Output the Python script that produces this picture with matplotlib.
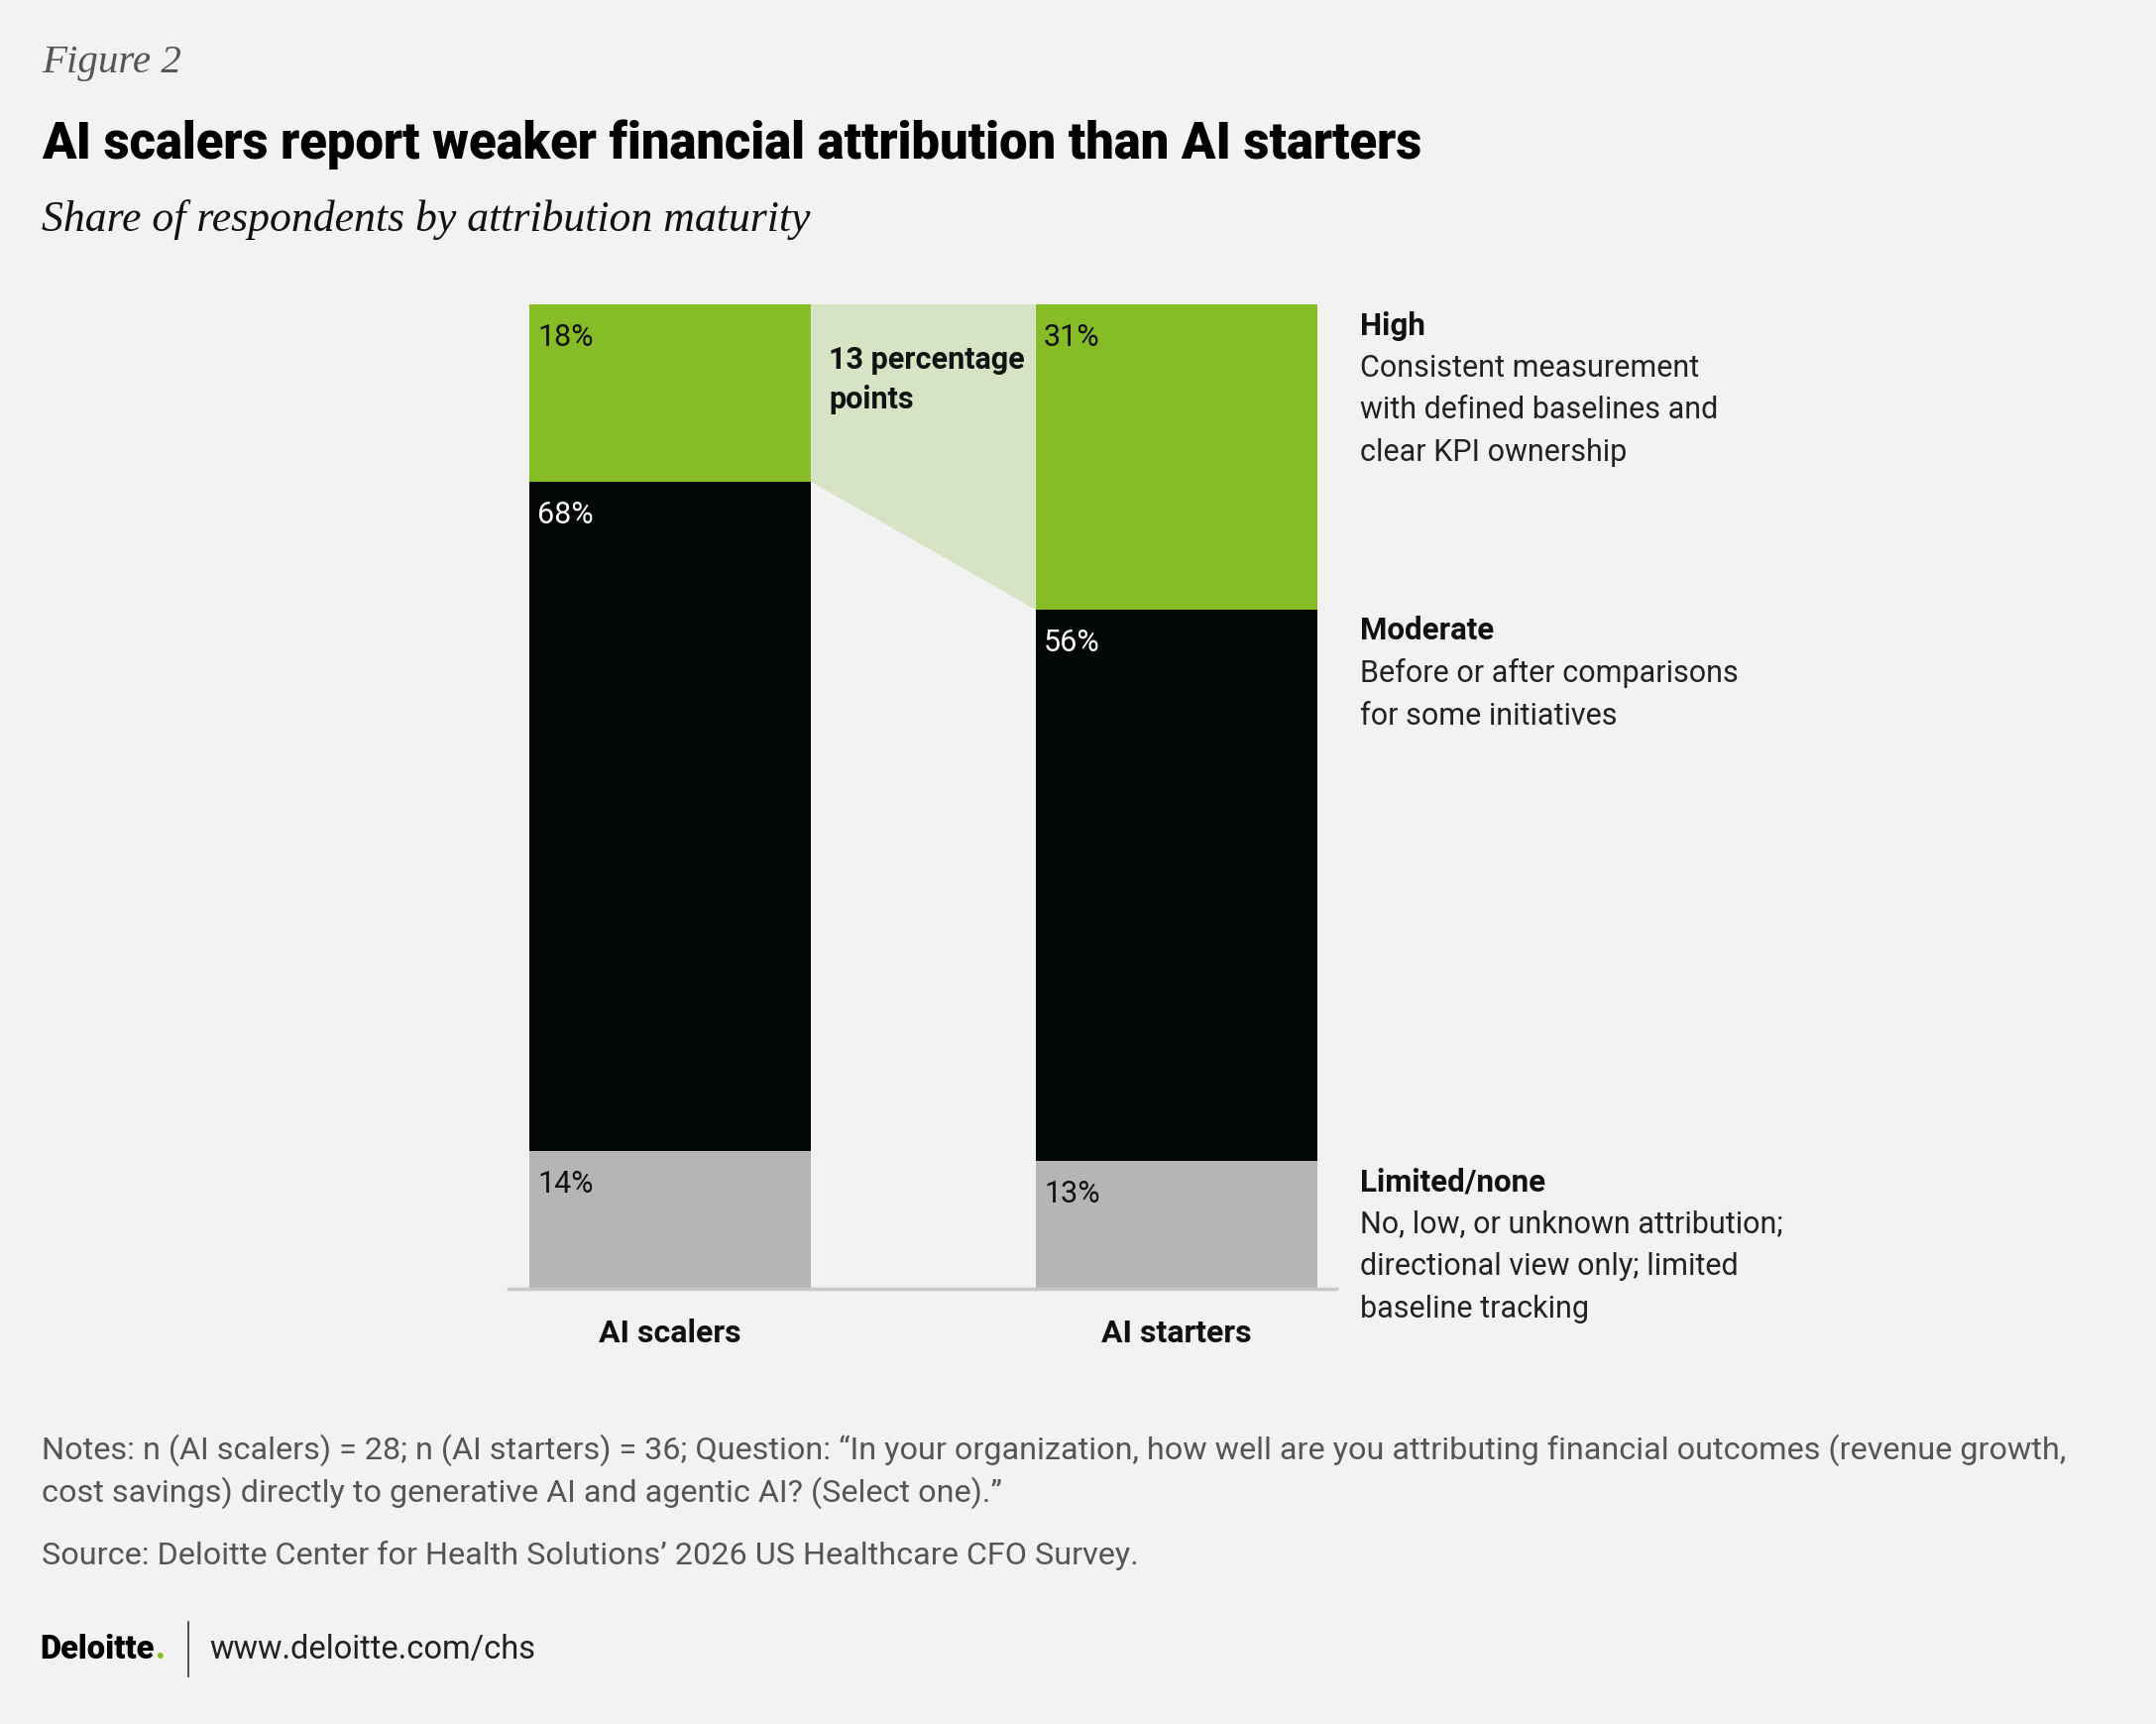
import matplotlib
matplotlib.use("Agg")
import matplotlib.pyplot as plt
from matplotlib import font_manager
from matplotlib.patches import Polygon

# data
groups = ["AI scalers", "AI starters"]
levels = ["High", "Moderate", "Limited/none"]
high = [18, 31]
moderate = [68, 56]
limited = [14, 13]
level_notes = [
    "Consistent measurement\nwith defined baselines and\nclear KPI ownership",
    "Before or after comparisons\nfor some initiatives",
    "No, low, or unknown attribution;\ndirectional view only; limited\nbaseline tracking",
]
gap_label = "13 percentage\npoints"

# colours
BG = "#f2f2f2"
GREEN = "#86bc25"
BLACK = "#040708"
GREY = "#b5b5b5"
WEDGE = "#d6e3c4"

available = {f.name for f in font_manager.fontManager.ttflist}
SANS = "Liberation Sans Narrow" if "Liberation Sans Narrow" in available else "Roboto"
SERIF = "Liberation Serif" if "Liberation Serif" in available else "DejaVu Serif"
plt.rcParams["font.family"] = [SANS, "DejaVu Sans"]

W, H = 2175, 1740
fig = plt.figure(figsize=(W / 100, H / 100), dpi=100, facecolor=BG)


def fx(x):
    return x / W


def fy(y):
    return 1 - y / H


# axes placed to match bar area
ax = fig.add_axes([fx(513), fy(1301), fx(1348) - fx(513), fy(308) - fy(1301)])
ax.set_facecolor(BG)

x = [0, 1]
w = 0.556
top_mod = [l + m for l, m in zip(limited, moderate)]

ax.bar(x, limited, width=w, color=GREY)
ax.bar(x, moderate, width=w, bottom=limited, color=BLACK)
ax.bar(x, high, width=w, bottom=top_mod, color=GREEN)

# wedge between the two green segments
wedge = Polygon([(x[0] + w / 2, 100), (x[0] + w / 2, top_mod[0]),
                 (x[1] - w / 2, top_mod[1]), (x[1] - w / 2, 100)],
                closed=True, facecolor=WEDGE, edgecolor="none")
ax.add_patch(wedge)
ax.annotate(gap_label, xy=(x[0] + w / 2, 100), xytext=(13, -29),
            textcoords="offset points", ha="left", va="top",
            fontsize=22, fontweight="bold", color="#111111", linespacing=1.4)

# value labels at top-left of each segment
for i in range(2):
    segs = [(100, high[i], "#111111"),
            (top_mod[i], moderate[i], "white"),
            (limited[i], limited[i], "#111111")]
    for top, val, col in segs:
        ax.annotate(f"{val}%", xy=(x[i] - w / 2, top), xytext=(6, -13),
                    textcoords="offset points", ha="left", va="top",
                    fontsize=22, color=col)

# level labels to the right of the starters bar
tops = [100, top_mod[1], limited[1]]
for lvl, note, top in zip(levels, level_notes, tops):
    ax.annotate(lvl, xy=(x[1] + w / 2, top), xytext=(31, -4),
                textcoords="offset points", ha="left", va="top",
                fontsize=22.5, fontweight="bold", color="#111111",
                annotation_clip=False)
    ax.annotate(note, xy=(x[1] + w / 2, top), xytext=(31, -35),
                textcoords="offset points", ha="left", va="top",
                fontsize=22, color="#222222", linespacing=1.6,
                annotation_clip=False)

ax.set_xlim(-0.319, 1.316)
ax.set_ylim(0, 100)
for s in ["top", "right", "left"]:
    ax.spines[s].set_visible(False)
ax.spines["bottom"].set_color("#c8c8c8")
ax.spines["bottom"].set_linewidth(2.5)
ax.set_yticks([])
ax.set_xticks(x)
ax.set_xticklabels(groups, fontsize=23, fontweight="bold", color="#111111")
ax.tick_params(axis="x", length=0, pad=21)

# header
fig.text(fx(42), fy(64), "Figure 2", family=SERIF, style="italic",
         fontsize=29.5, color="#555555", va="center")
fig.text(fx(42), fy(146), "AI scalers report weaker financial attribution than AI starters",
         fontsize=36.5, fontweight="black", color="#000000", va="center")
fig.text(fx(42), fy(222), "Share of respondents by attribution maturity", family=SERIF,
         style="italic", fontsize=31.5, color="#111111", va="center")

# notes and source
NOTE_FS = 23.3
fig.text(fx(42), fy(1463),
         "Notes: n (AI scalers) = 28; n (AI starters) = 36; Question: \u201cIn your organization, how well are you attributing financial outcomes (revenue growth,",
         fontsize=NOTE_FS, color="#555555", va="center")
fig.text(fx(42), fy(1506),
         "cost savings) directly to generative AI and agentic AI? (Select one).\u201d",
         fontsize=NOTE_FS, color="#555555", va="center")
fig.text(fx(42), fy(1569),
         "Source: Deloitte Center for Health Solutions\u2019 2026 US Healthcare CFO Survey.",
         fontsize=NOTE_FS, color="#555555", va="center")

# footer
t = fig.text(fx(40), fy(1664), "Deloitte", fontsize=23.5, fontweight="black",
             color="#000000", va="center")
fig.canvas.draw()
bb = t.get_window_extent()
fig.text(bb.x1 / W + 0.0005, fy(1664), ".", fontsize=23.5, fontweight="black",
         color=GREEN, va="center")
fig.add_artist(plt.Line2D([fx(190), fx(190)], [fy(1637), fy(1692)],
                          color="#333333", linewidth=1.2))
fig.text(fx(211), fy(1664), "www.deloitte.com/chs", fontsize=23.5,
         color="#222222", va="center")

fig.savefig("out.png", dpi=100, facecolor=BG)
